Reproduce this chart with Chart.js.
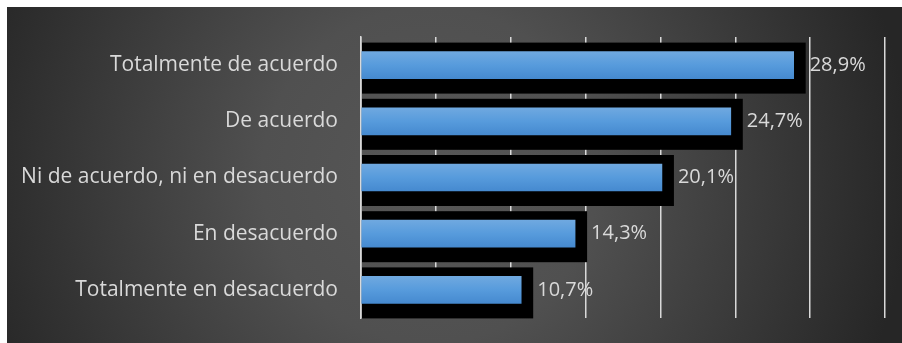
<!DOCTYPE html>
<html>
<head>
<meta charset="utf-8">
<script src="https://cdn.jsdelivr.net/npm/chart.js@4.4.1/dist/chart.umd.min.js"></script>
<style>
html,body{margin:0;padding:0;background:#fff;}
canvas{display:block;}
</style>
</head>
<body>
<canvas id="c" width="902" height="343"></canvas>
<script>
const categories = ["Totalmente de acuerdo", "De acuerdo", "Ni de acuerdo, ni en desacuerdo", "En desacuerdo", "Totalmente en desacuerdo"];
const values = [28.9, 24.7, 20.1, 14.3, 10.7];
const axisMin = 0;
const axisMax = 35;
const axisStep = 5;

const fmt = v => v.toFixed(1).replace('.', ',') + '%';

const bgPlugin = {
  id: 'bg',
  beforeDraw(chart) {
    const ctx = chart.ctx;
    ctx.save();
    ctx.fillStyle = '#ffffff';
    ctx.fillRect(0, 0, chart.width, chart.height);
    const g = ctx.createRadialGradient(430, 175, 0, 430, 175, 480);
    g.addColorStop(0, '#575757');
    g.addColorStop(0.35, '#505050');
    g.addColorStop(1, '#262626');
    ctx.fillStyle = g;
    ctx.fillRect(7, 7, chart.width - 7, chart.height - 7);
    ctx.restore();
  }
};

const shadowPlugin = {
  id: 'shadow',
  beforeDatasetsDraw(chart) {
    const ctx = chart.ctx;
    const meta = chart.getDatasetMeta(0);
    const left = chart.chartArea.left + 1;
    ctx.save();
    ctx.fillStyle = '#000000';
    meta.data.forEach(el => {
      const p = el.getProps(['x', 'y', 'height'], true);
      const top = p.y - p.height / 2 - 9;
      const bottom = p.y + p.height / 2 + 15;
      ctx.fillRect(left, top, p.x + 12 - left, bottom - top);
    });
    ctx.restore();
  },
  afterDatasetsDraw(chart) {
    const ctx = chart.ctx;
    const meta = chart.getDatasetMeta(0);
    ctx.save();
    ctx.fillStyle = '#d9d9d9';
    ctx.font = '20px "Open Sans"';
    ctx.textAlign = 'left';
    ctx.textBaseline = 'middle';
    meta.data.forEach((el, i) => {
      const p = el.getProps(['x', 'y'], true);
      ctx.fillText(fmt(values[i]), p.x + 16, p.y);
    });
    ctx.restore();
  }
};

new Chart(document.getElementById('c'), {
  type: 'bar',
  data: {
    labels: categories,
    datasets: [{
      data: values,
      backgroundColor: (c) => {
        const chart = c.chart;
        if (!chart.chartArea || !chart.scales.y || c.dataIndex === undefined) return '#5b9bd5';
        const y = chart.scales.y.getPixelForValue(c.dataIndex);
        const g = chart.ctx.createLinearGradient(0, y - 14, 0, y + 14);
        g.addColorStop(0, '#70a9e0');
        g.addColorStop(0.5, '#579bdc');
        g.addColorStop(1, '#4589cf');
        return g;
      },
      borderWidth: 0,
      barThickness: 27
    }]
  },
  options: {
    indexAxis: 'y',
    responsive: false,
    animation: false,
    devicePixelRatio: 1,
    layout: { padding: { left: 7, top: 37, right: 17, bottom: 25 } },
    plugins: { legend: { display: false }, tooltip: { enabled: false } },
    scales: {
      x: {
        min: axisMin, max: axisMax,
        ticks: { display: false, stepSize: axisStep },
        grid: { color: '#d9d9d9', lineWidth: 1.5, drawTicks: false },
        border: { display: false },
        afterFit(scale) { scale.height = 0; scale.paddingLeft = 0; scale.paddingRight = 0; }
      },
      y: {
        ticks: { color: '#d9d9d9', font: { family: '"Open Sans"', size: 21 }, padding: 23 },
        grid: { display: false, drawTicks: false },
        border: { display: true, color: '#d9d9d9', width: 1.5 },
        afterFit(scale) { scale.width = 354; scale.paddingTop = 0; scale.paddingBottom = 0; }
      }
    }
  },
  plugins: [bgPlugin, shadowPlugin]
});
</script>
</body>
</html>
